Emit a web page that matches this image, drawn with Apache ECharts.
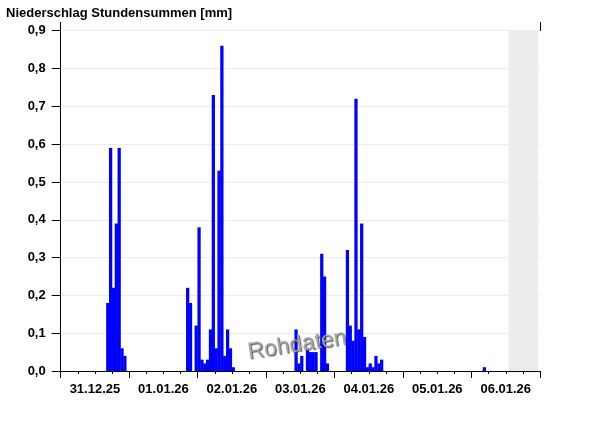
<!DOCTYPE html>
<html>
<head>
<meta charset="utf-8">
<script src="https://cdn.jsdelivr.net/npm/echarts@6/dist/echarts.min.js"></script>
<style>
  html, body { margin: 0; padding: 0; background: #fff; }
  #chart { width: 600px; height: 426px; }
</style>
</head>
<body>
<div id="chart"></div>
<script>
// Stunden ab 31.12.25 00:00 und Niederschlag je Stunde [mm]
var rainHours = [16, 17, 18, 19, 20, 21, 22,
  44, 45, 47, 48, 49, 50, 51, 52, 53, 54, 55, 56, 57, 58, 59, 60,
  82, 83, 84, 86, 87, 88, 89, 91, 92, 93,
  100, 101, 102, 103, 104, 105, 106, 107, 108, 109, 110, 111, 112,
  148];
var rainValues = [0.18, 0.59, 0.22, 0.39, 0.59, 0.06, 0.04,
  0.22, 0.18, 0.12, 0.38, 0.03, 0.02, 0.03, 0.11, 0.73, 0.06, 0.53, 0.86, 0.04, 0.11, 0.06, 0.01,
  0.11, 0.02, 0.04, 0.06, 0.05, 0.05, 0.05, 0.31, 0.25, 0.02,
  0.32, 0.12, 0.08, 0.72, 0.11, 0.39, 0.09, 0.01, 0.02, 0.01, 0.04, 0.02, 0.03,
  0.01];
var dayLabels = ["31.12.25", "01.01.26", "02.01.26", "03.01.26", "04.01.26", "05.01.26", "06.01.26"];
var hoursTotal = 168;
var futureFrom = 157; // ab hier keine Daten (grau)

var barData = rainHours.map(function (h, i) {
  return [h, rainValues[i]];
});

var chart = echarts.init(document.getElementById("chart"), null, { renderer: "canvas" });

var font = "Liberation Sans, Arial, sans-serif";

// Balken über die ganze Stunde, etwas überlappend gegen Haarlinien
function renderHourBar(params, api) {
  var h = api.value(0);
  var p0 = api.coord([h, api.value(1)]);
  var p1 = api.coord([h + 1, 0]);
  return {
    type: "rect",
    shape: { x: p0[0] - 0.2, y: p0[1], width: p1[0] - p0[0] + 0.4, height: p1[1] - p0[1] },
    style: { fill: "#0000ff" }
  };
}

var option = {
  animation: false,
  title: {
    text: "Niederschlag Stundensummen [mm]",
    left: 1,
    top: 2,
    textStyle: { fontFamily: font, fontSize: 13, fontWeight: "bold", color: "#000" }
  },
  grid: { left: 60.7, right: 60, top: 30.7, bottom: 55 },
  xAxis: [
    {
      type: "value",
      min: 0,
      max: hoursTotal,
      interval: 24,
      axisLine: { show: true, lineStyle: { color: "#000", width: 1 } },
      axisTick: { show: true, length: 7, lineStyle: { color: "#000" } },
      minorTick: { show: true, splitNumber: 4, length: 3, lineStyle: { color: "#000" } },
      axisLabel: { show: false },
      splitLine: { show: false }
    },
    {
      // nur für die Tagesbeschriftung in der Tagesmitte
      type: "value",
      min: 0,
      max: hoursTotal,
      interval: 12,
      position: "bottom",
      axisLine: { show: false },
      axisTick: { show: false },
      splitLine: { show: false },
      axisLabel: {
        margin: 12,
        fontFamily: font,
        fontSize: 13,
        fontWeight: "bold",
        color: "#000",
        formatter: function (v) {
          if (v % 24 === 12) return dayLabels[(v - 12) / 24];
          return "";
        }
      }
    }
  ],
  yAxis: [
    {
      type: "value",
      min: 0,
      max: 0.9,
      interval: 0.1,
      axisLine: { show: true, lineStyle: { color: "#000", width: 1 } },
      axisTick: { show: true, length: 9, lineStyle: { color: "#000" } },
      axisLabel: {
        margin: 15,
        fontFamily: font,
        fontSize: 13,
        fontWeight: "bold",
        color: "#000",
        formatter: function (v) {
          return v.toFixed(1).replace(".", ",");
        }
      },
      splitLine: { show: true, lineStyle: { color: "#ebebeb", width: 1 } }
    },
    {
      type: "value",
      position: "right",
      min: 0,
      max: 0.9,
      interval: 0.1,
      axisLine: { show: true, lineStyle: { color: "#000", width: 1 } },
      axisTick: { show: false },
      axisLabel: { show: false },
      splitLine: { show: false }
    }
  ],
  series: [
    {
      type: "custom",
      xAxisIndex: 0,
      yAxisIndex: 0,
      data: barData,
      renderItem: renderHourBar,
      markArea: {
        silent: true,
        itemStyle: { color: "#ececec" },
        data: [[{ xAxis: futureFrom, yAxis: 0 }, { xAxis: 167.4, yAxis: 0.9 }]]
      }
    }
  ],
  graphic: [
    // Achsenlinien reichen etwas über das Diagramm hinaus
    { type: "line", z: 10, shape: { x1: 60.5, y1: 22, x2: 60.5, y2: 31 }, style: { stroke: "#000", lineWidth: 1 } },
    { type: "line", z: 10, shape: { x1: 540.5, y1: 22, x2: 540.5, y2: 31 }, style: { stroke: "#000", lineWidth: 1 } },
    {
      type: "text",
      z: 100,
      x: 297,
      y: 345,
      rotation: 0.15,
      style: {
        text: "Rohdaten",
        fontFamily: font,
        fontSize: 23,
        fill: "#a8a8a8",
        textAlign: "center",
        textVerticalAlign: "middle",
        textShadowColor: "#444",
        textShadowBlur: 1,
        textShadowOffsetX: 1,
        textShadowOffsetY: 1,
        opacity: 0.9
      }
    }
  ]
};

chart.setOption(option);
</script>
</body>
</html>
